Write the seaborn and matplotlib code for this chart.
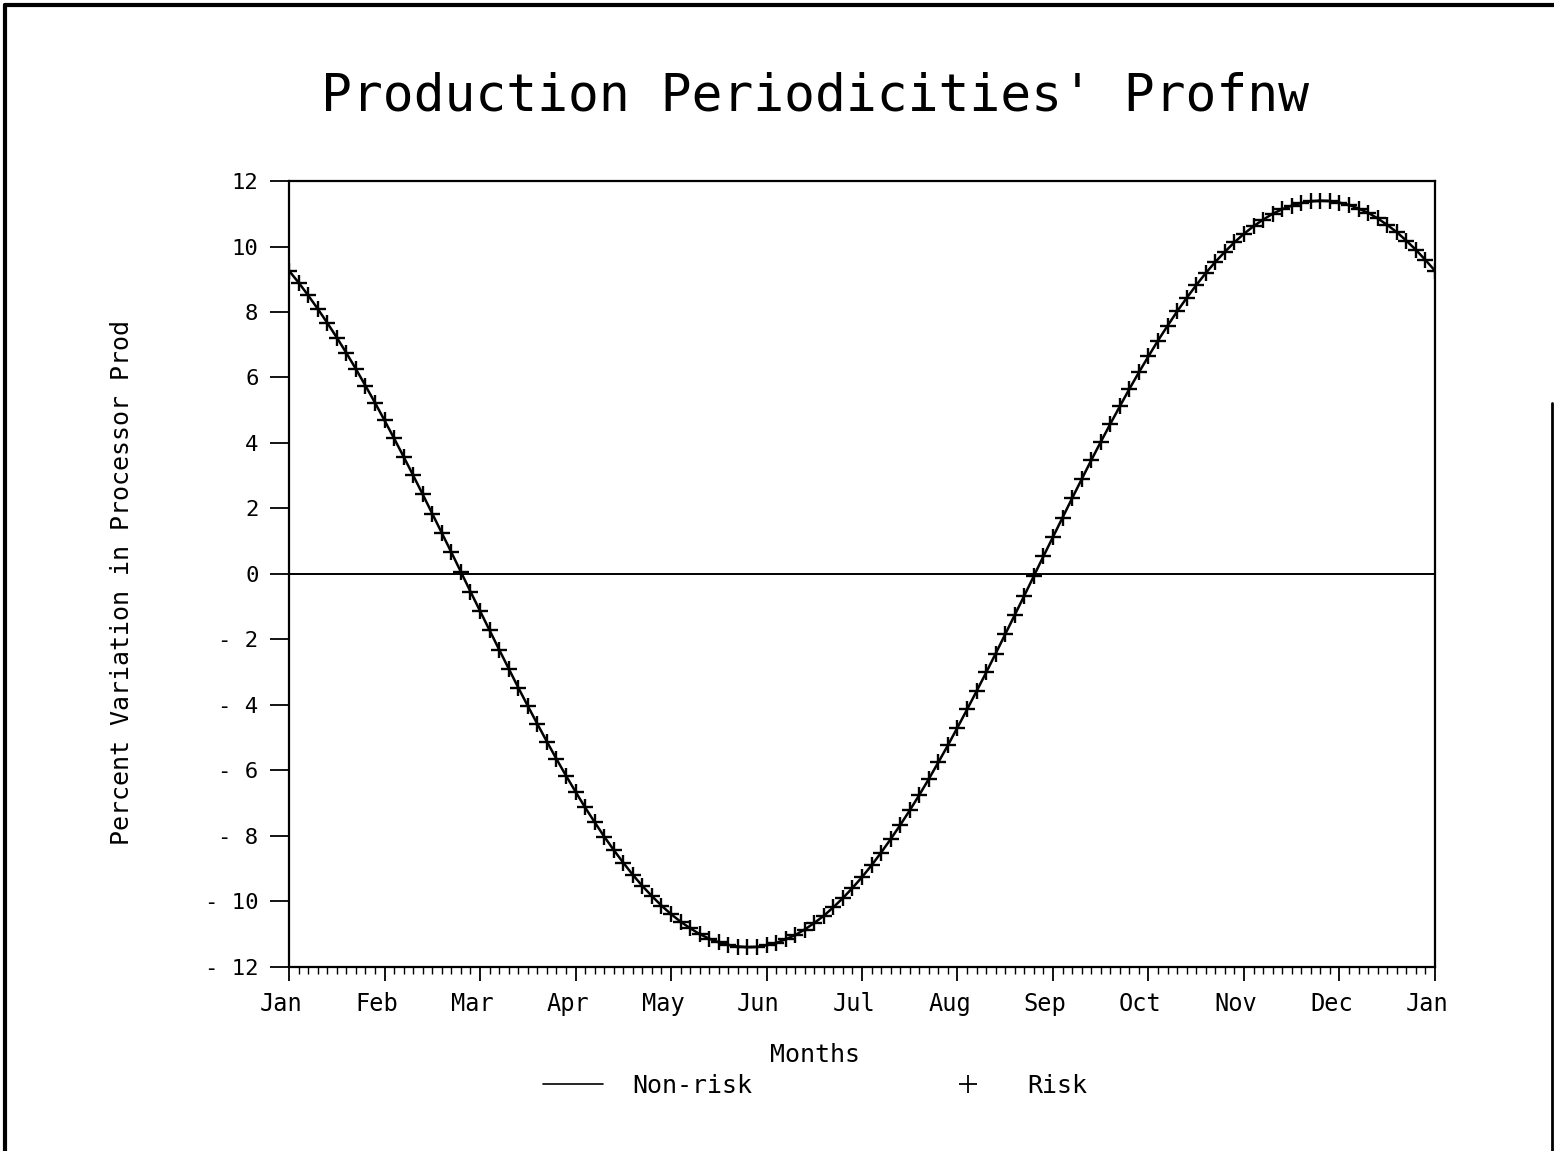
import numpy as np
import pandas as pd
import matplotlib
matplotlib.use("Agg")
import matplotlib.pyplot as plt
import matplotlib.transforms as mtransforms
from matplotlib.lines import Line2D
import seaborn as sns

# Percent variation in processor production, sampled 10 times per month (Jan .. next Jan)
nonrisk = [
    9.26, 8.90, 8.51, 8.10, 7.67, 7.22, 6.75, 6.26, 5.75, 5.23,
    4.69, 4.14, 3.58, 3.01, 2.43, 1.84, 1.25, 0.66, 0.06, -0.54,
    -1.13, -1.72, -2.31, -2.89, -3.47, -4.03, -4.58, -5.12, -5.65, -6.16,
    -6.65, -7.13, -7.58, -8.02, -8.43, -8.82, -9.19, -9.53, -9.84, -10.13,
    -10.39, -10.62, -10.82, -11.00, -11.14, -11.25, -11.33, -11.38, -11.40, -11.39,
    -11.34, -11.27, -11.16, -11.03, -10.86, -10.66, -10.44, -10.18, -9.90, -9.59,
    -9.26, -8.90, -8.51, -8.10, -7.67, -7.22, -6.75, -6.26, -5.75, -5.23,
    -4.69, -4.14, -3.58, -3.01, -2.43, -1.84, -1.25, -0.66, -0.06, 0.54,
    1.13, 1.72, 2.31, 2.89, 3.47, 4.03, 4.58, 5.12, 5.65, 6.16,
    6.65, 7.13, 7.58, 8.02, 8.43, 8.82, 9.19, 9.53, 9.84, 10.13,
    10.39, 10.62, 10.82, 11.00, 11.14, 11.25, 11.33, 11.38, 11.40, 11.39,
    11.34, 11.27, 11.16, 11.03, 10.86, 10.66, 10.44, 10.18, 9.90, 9.59,
    9.26,
]
risk = list(nonrisk)

month_labels = ["Jan", "Feb", "Mar", "Apr", "May", "Jun",
                "Jul", "Aug", "Sep", "Oct", "Nov", "Dec", "Jan"]
y_ticks = [12, 10, 8, 6, 4, 2, 0, -2, -4, -6, -8, -10, -12]
samples_per_month = 10

month_pos = np.arange(len(nonrisk)) / samples_per_month
df = pd.DataFrame({"month": month_pos, "Non-risk": nonrisk, "Risk": risk})

sns.set_theme(style="white")
plt.rcParams["font.family"] = ["DejaVu Sans Mono", "DejaVu Sans"]
plt.rcParams["text.color"] = "black"
plt.rcParams["xtick.color"] = "black"
plt.rcParams["ytick.color"] = "black"
plt.rcParams["axes.labelcolor"] = "black"

fig = plt.figure(figsize=(15.54, 11.51), dpi=100)
ax = fig.add_axes([0.186, 0.160, 0.7374, 0.6827])

ax.axhline(0, color="black", linewidth=1.4, zorder=1)
sns.lineplot(data=df, x="month", y="Non-risk", ax=ax, color="black",
             linewidth=1.8, label="Non-risk", legend=False, zorder=2)
sns.scatterplot(data=df, x="month", y="Risk", ax=ax, marker="+", color="black",
                s=140, linewidth=1.7, label="Risk", legend=False, zorder=3)

ax.set_xlim(0, 12)
ax.set_ylim(-12, 12)
ax.set_xticks(np.arange(len(month_labels)))
ax.set_xticklabels(month_labels)
ax.set_xticks(np.arange(0, 12.001, 1 / samples_per_month), minor=True)
ax.set_yticks(y_ticks)
ax.set_yticklabels([f"{v:d}".replace("-", "-\u2009") for v in y_ticks])

for side in ["left", "right", "top", "bottom"]:
    ax.spines[side].set_color("black")
    ax.spines[side].set_linewidth(1.6)

ax.tick_params(axis="y", which="major", direction="out", length=14, width=1.3,
               labelsize=16, pad=8, left=True)
ax.tick_params(axis="x", which="major", direction="out", length=10, width=1.3,
               labelsize=17, pad=8, bottom=True)
ax.tick_params(axis="x", which="minor", direction="out", length=5, width=1.0,
               bottom=True)

# month names sit slightly left of their tick marks
shift = mtransforms.ScaledTranslation(-0.08, 0, fig.dpi_scale_trans)
for lbl in ax.get_xticklabels():
    lbl.set_transform(lbl.get_transform() + shift)

ax.set_xlabel("")
ax.set_ylabel("")

fig.text(0.0785, 0.4935, "Percent Variation in Processor Prod", rotation=90,
         ha="center", va="center", fontsize=18)
fig.text(0.5245, 0.0834, "Months", ha="center", va="center", fontsize=18)
fig.text(0.5245, 0.916, "Production Periodicities' Profnw", ha="center", va="center",
         fontsize=37)

handles = [
    Line2D([], [], color="black", linewidth=1.2),
    Line2D([], [], color="black", marker="+", linestyle="none", markersize=13,
           markeredgewidth=1.3),
]
fig.legend(handles, ["Non-risk", "Risk"], loc="center", bbox_to_anchor=(0.5245, 0.0565),
           ncol=2, frameon=False, fontsize=18, handlelength=2.4,
           handletextpad=1.2, columnspacing=7.4)

# page frame
fig.add_artist(Line2D([0.003, 0.003], [0.0, 0.996], transform=fig.transFigure,
                      color="black", linewidth=3))
fig.add_artist(Line2D([0.003, 1.0], [0.996, 0.996], transform=fig.transFigure,
                      color="black", linewidth=3))
fig.add_artist(Line2D([0.9985, 0.9985], [0.0, 0.65], transform=fig.transFigure,
                      color="black", linewidth=2))

fig.savefig("out.png", dpi=100, facecolor="white")
